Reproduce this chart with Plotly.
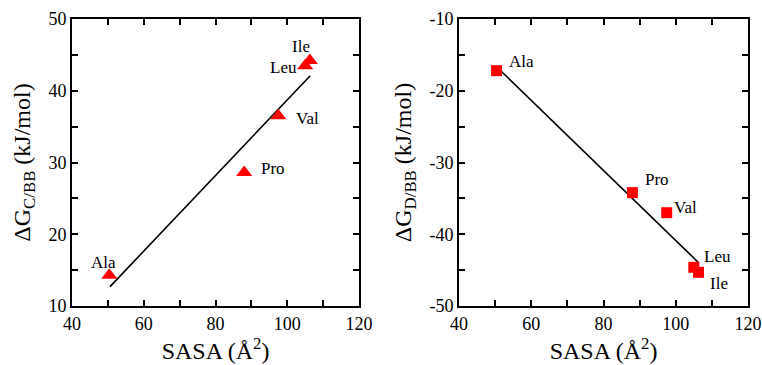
import plotly.graph_objects as go

residues = ["Ala", "Pro", "Val", "Leu", "Ile"]
sasa = [50.4, 88.0, 97.5, 105.0, 106.3]
dg_c_bb = [14.3, 28.6, 36.5, 43.5, 44.2]
dg_d_bb = [-17.2, -34.2, -37.0, -44.6, -45.3]

fit_x_left = [50.6, 106.4]
fit_y_left = [12.7, 42.1]
fit_x_right = [50.5, 106.2]
fit_y_right = [-16.7, -43.9]

x_ticks = [40, 60, 80, 100, 120]
y_ticks_left = [10, 20, 30, 40, 50]
y_ticks_right = [-50, -40, -30, -20, -10]

# label pixel offsets (xshift, yshift)
left_shift = [(-6, 13), (29, 4), (29, -3), (-22, -2), (-9, 14)]
right_shift = [(25, 9), (25, 13), (19, 5), (24, 11), (20, -11)]

FONT = "Liberation Serif"
RED = "#ff0000"

fig = go.Figure()
fig.add_trace(go.Scatter(x=fit_x_left, y=fit_y_left, mode="lines",
                         line=dict(color="black", width=1.6), xaxis="x", yaxis="y"))
fig.add_trace(go.Scatter(x=sasa, y=dg_c_bb, mode="markers",
                         marker=dict(symbol="triangle-up", size=14, color=RED),
                         xaxis="x", yaxis="y"))
fig.add_trace(go.Scatter(x=fit_x_right, y=fit_y_right, mode="lines",
                         line=dict(color="black", width=1.6), xaxis="x2", yaxis="y2"))
fig.add_trace(go.Scatter(x=sasa, y=dg_d_bb, mode="markers",
                         marker=dict(symbol="square", size=11, color=RED),
                         xaxis="x2", yaxis="y2"))

ydom = [59 / 365, 346 / 365]
common = dict(showgrid=False, zeroline=False, showline=True, linecolor="black",
              linewidth=2, mirror="allticks", ticks="inside", ticklen=6,
              tickwidth=1.5, tickcolor="black", automargin=False, tickmode="array",
              ticklabeloverflow="allow",
              tickfont=dict(family=FONT, size=18, color="black"))
minor = dict(ticks="inside", ticklen=6, tickwidth=1.5, tickcolor="black", showgrid=False)

title_font = dict(family=FONT, size=24, color="black")


def tl(vals):
    return [str(v) for v in vals]


fig.update_layout(
    width=762, height=365, margin=dict(l=0, r=0, t=0, b=0),
    plot_bgcolor="white", paper_bgcolor="white", showlegend=False,
    font=dict(family=FONT),
    xaxis=dict(domain=[72 / 762, 359 / 762], range=[40, 120],
               tickvals=x_ticks, ticktext=tl(x_ticks),
               minor=dict(dtick=10, **minor),
               title=dict(text="SASA (Å<sup>2</sup>)", font=title_font, standoff=7),
               anchor="y", **common),
    yaxis=dict(domain=ydom, range=[10, 50],
               tickvals=y_ticks_left, ticktext=tl(y_ticks_left),
               minor=dict(dtick=5, **minor),
               title=dict(text="ΔG<sub>C/BB</sub> (kJ/mol)", font=title_font, standoff=11),
               anchor="x", **common),
    xaxis2=dict(domain=[459 / 762, 748 / 762], range=[40, 120],
                tickvals=x_ticks, ticktext=tl(x_ticks),
                minor=dict(dtick=10, **minor),
                title=dict(text="SASA (Å<sup>2</sup>)", font=title_font, standoff=7),
                anchor="y2", **common),
    yaxis2=dict(domain=ydom, range=[-50, -10],
                tickvals=y_ticks_right, ticktext=tl(y_ticks_right),
                minor=dict(dtick=5, **minor),
                title=dict(text="ΔG<sub>D/BB</sub> (kJ/mol)", font=title_font, standoff=11),
                anchor="x2", **common),
)

annotations = []
for name, x, y, (dx, dy) in zip(residues, sasa, dg_c_bb, left_shift):
    annotations.append(dict(x=x, y=y, xref="x", yref="y", text=name, showarrow=False,
                            xshift=dx, yshift=dy, font=dict(family=FONT, size=17, color="black")))
for name, x, y, (dx, dy) in zip(residues, sasa, dg_d_bb, right_shift):
    annotations.append(dict(x=x, y=y, xref="x2", yref="y2", text=name, showarrow=False,
                            xshift=dx, yshift=dy, font=dict(family=FONT, size=17, color="black")))
fig.update_layout(annotations=annotations)

fig.write_html("out.html")
